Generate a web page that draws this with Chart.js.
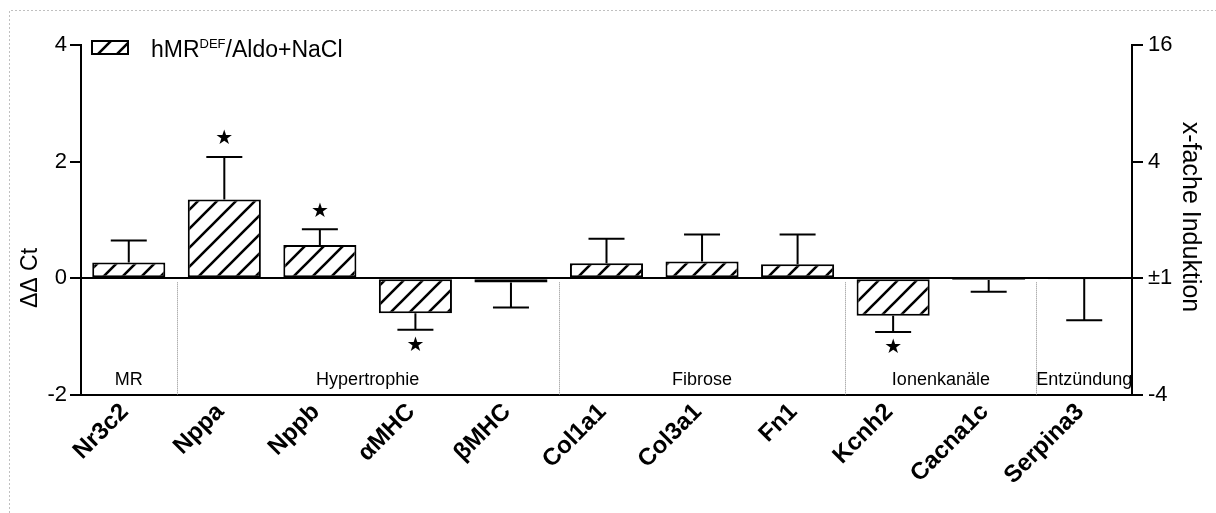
<!DOCTYPE html>
<html>
<head>
<meta charset="utf-8">
<script src="https://cdn.jsdelivr.net/npm/chart.js@4.4.0/dist/chart.umd.min.js"></script>
<style>
  html, body { margin: 0; padding: 0; background: #fff; }
</style>
</head>
<body>
<canvas id="myChart" width="1216" height="513"></canvas>
<script>
const genes = ['Nr3c2', 'Nppa', 'Nppb', 'αMHC', 'βMHC', 'Col1a1', 'Col3a1', 'Fn1', 'Kcnh2', 'Cacna1c', 'Serpina3'];
const ddCt = [0.27, 1.35, 0.57, -0.60, -0.07, 0.26, 0.29, 0.24, -0.64, -0.03, -0.01];
const sem = [0.38, 0.73, 0.27, 0.28, 0.43, 0.42, 0.46, 0.51, 0.28, 0.20, 0.71];
const significant = [false, true, true, true, false, false, false, false, true, false, false];
const groupNames = ['MR', 'Hypertrophie', 'Fibrose', 'Ionenkanäle', 'Entzündung'];
const groupFirst = [0, 1, 5, 8, 10];
const ctTicks = [-2, 0, 2, 4];
const foldTicks = ['-4', '±1', '4', '16'];

const FONT = '"Liberation Sans", Arial, sans-serif';
const canvas = document.getElementById('myChart');
const ctx = canvas.getContext('2d');

// diagonal "/" hatch used for bars and the legend box
function makeHatch() {
    const s = 19;
    const tile = document.createElement('canvas');
    tile.width = s; tile.height = s;
    const g = tile.getContext('2d');
    g.fillStyle = '#fff';
    g.fillRect(0, 0, s, s);
    g.strokeStyle = '#000';
    g.lineWidth = 2.6;
    g.beginPath();
    g.moveTo(-2, s + 2); g.lineTo(s + 2, -2);
    g.moveTo(-s / 2 - 2, s / 2 + 2); g.lineTo(s / 2 + 2, -s / 2 - 2);
    g.moveTo(s / 2 - 2, s * 1.5 + 2); g.lineTo(s * 1.5 + 2, s / 2 - 2);
    g.stroke();
    return ctx.createPattern(tile, 'repeat');
}
const hatch = makeHatch();

const errorBars = {
    id: 'errorBars',
    afterDatasetsDraw(chart) {
        const { ctx, scales: { x, y } } = chart;
        ctx.save();
        ctx.strokeStyle = '#000';
        ctx.fillStyle = '#000';
        ctx.lineWidth = 2;
        ddCt.forEach((v, i) => {
            const px = x.getPixelForValue(i);
            const up = v >= 0;
            const y0 = y.getPixelForValue(v);
            const y1 = y.getPixelForValue(up ? v + sem[i] : v - sem[i]);
            ctx.beginPath();
            ctx.moveTo(px, y0); ctx.lineTo(px, y1);
            ctx.moveTo(px - 18, y1); ctx.lineTo(px + 18, y1);
            ctx.stroke();
            if (significant[i]) {
                ctx.font = '20px "DejaVu Sans"';
                ctx.textAlign = 'center';
                ctx.textBaseline = 'middle';
                ctx.fillText('★', px, y1 + (up ? -18 : 16));
            }
        });
        ctx.restore();
    }
};

// dotted group separators below the zero line and the group names
const groups = {
    id: 'groups',
    afterDatasetsDraw(chart) {
        const { ctx, chartArea, scales: { x, y } } = chart;
        const step = x.getPixelForValue(1) - x.getPixelForValue(0);
        const y0 = y.getPixelForValue(0) + 4;
        ctx.save();
        ctx.strokeStyle = '#8a8a8a';
        ctx.lineWidth = 1;
        ctx.setLineDash([1, 1]);
        groupFirst.forEach((first, g) => {
            const left = g === 0 ? chartArea.left : x.getPixelForValue(first) - step / 2;
            const last = g < groupFirst.length - 1 ? groupFirst[g + 1] - 1 : genes.length - 1;
            const right = g === groupFirst.length - 1 ? chartArea.right : x.getPixelForValue(last) + step / 2;
            if (g > 0) {
                ctx.beginPath();
                ctx.moveTo(Math.round(left) + 0.5, y0);
                ctx.lineTo(Math.round(left) + 0.5, chartArea.bottom);
                ctx.stroke();
            }
            ctx.fillStyle = '#000';
            ctx.font = '18px ' + FONT;
            ctx.textAlign = 'center';
            ctx.textBaseline = 'alphabetic';
            ctx.fillText(groupNames[g], (left + right) / 2, 385);
        });
        ctx.restore();
    }
};

// legend box, axis titles and the dotted frame
const extras = {
    id: 'extras',
    afterDraw(chart) {
        const { ctx } = chart;
        ctx.save();
        ctx.strokeStyle = '#c0c0c0';
        ctx.lineWidth = 1;
        ctx.setLineDash([2, 2]);
        ctx.beginPath();
        ctx.moveTo(9.5, 513); ctx.lineTo(9.5, 10.5); ctx.lineTo(1216, 10.5);
        ctx.stroke();
        ctx.setLineDash([]);

        ctx.fillStyle = hatch;
        ctx.fillRect(92, 41, 36, 13);
        ctx.strokeStyle = '#000';
        ctx.lineWidth = 2;
        ctx.strokeRect(92, 41, 36, 13);

        ctx.fillStyle = '#000';
        ctx.textBaseline = 'alphabetic';
        ctx.textAlign = 'left';
        let tx = 151;
        ctx.font = '23px ' + FONT;
        ctx.fillText('hMR', tx, 57);
        tx += ctx.measureText('hMR').width;
        ctx.font = '13px ' + FONT;
        ctx.fillText('DEF', tx, 48);
        tx += ctx.measureText('DEF').width;
        ctx.font = '23px ' + FONT;
        ctx.fillText('/Aldo+NaCl', tx, 57);

        ctx.font = '23px ' + FONT;
        ctx.textAlign = 'center';
        ctx.textBaseline = 'middle';
        ctx.save();
        ctx.translate(31, 278);
        ctx.rotate(-Math.PI / 2);
        ctx.fillText('ΔΔ Ct', 0, 0);
        ctx.restore();
        ctx.font = '25px ' + FONT;
        ctx.save();
        ctx.translate(1190, 217);
        ctx.rotate(Math.PI / 2);
        ctx.fillText('x-fache Induktion', 0, 0);
        ctx.restore();
        ctx.restore();
    }
};

const tickFont = { family: FONT, size: 22 };

new Chart(ctx, {
    type: 'bar',
    data: {
        labels: genes,
        datasets: [{
            label: 'hMR DEF/Aldo+NaCl',
            data: ddCt,
            backgroundColor: hatch,
            borderColor: '#000',
            borderWidth: 2,
            borderSkipped: false,
            categoryPercentage: 1,
            barPercentage: 0.765
        }]
    },
    options: {
        responsive: false,
        animation: false,
        layout: { padding: { top: 45 } },
        plugins: { legend: { display: false }, tooltip: { enabled: false } },
        scales: {
            x: {
                grid: { display: false },
                border: { color: '#000', width: 2 },
                ticks: {
                    color: '#000',
                    font: { family: FONT, size: 24, weight: 'bold' },
                    minRotation: 45,
                    maxRotation: 45,
                    padding: -5,
                    labelOffset: -4
                },
                afterFit(s) { s.height = 118; }
            },
            y: {
                position: 'left',
                min: -2,
                max: 4,
                afterBuildTicks(s) { s.ticks = ctTicks.map(v => ({ value: v })); },
                grid: {
                    color: c => (c.tick && c.tick.value === 0 ? '#000' : 'rgba(0,0,0,0)'),
                    tickColor: '#000',
                    lineWidth: 2,
                    tickLength: 11
                },
                border: { color: '#000', width: 2 },
                ticks: { color: '#000', font: tickFont, padding: 3 },
                afterFit(s) { s.width = 81; }
            },
            y2: {
                position: 'right',
                min: -2,
                max: 4,
                afterBuildTicks(s) { s.ticks = ctTicks.map(v => ({ value: v })); },
                grid: { drawOnChartArea: false, tickColor: '#000', lineWidth: 2, tickLength: 11 },
                border: { color: '#000', width: 2 },
                ticks: {
                    color: '#000',
                    font: tickFont,
                    padding: 5,
                    callback: v => foldTicks[ctTicks.indexOf(v)]
                },
                afterFit(s) { s.width = 84; }
            }
        }
    },
    plugins: [errorBars, groups, extras]
});
</script>
</body>
</html>
